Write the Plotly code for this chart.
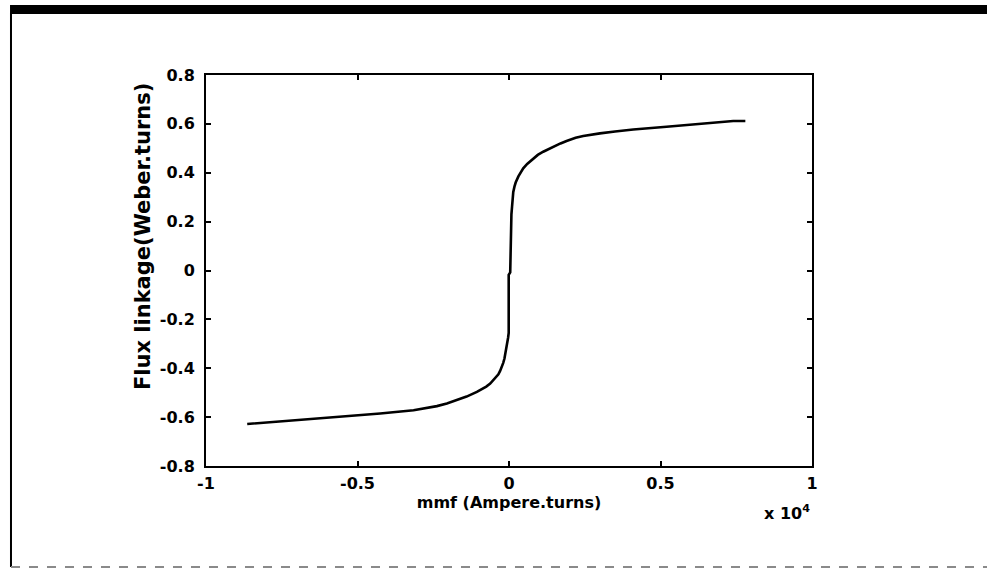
import plotly.graph_objects as go

# mmf in ampere-turns, flux linkage in weber-turns
mmf = [-8640, -7550, -6450, -5350, -4250, -3150, -2800, -2380, -2050, -1720,
       -1400, -1060, -900, -750, -620, -520, -430, -350, -290, -240, -190,
       -150, -100, -60, -30, -10, -10, 40, 50, 60, 80, 100, 120, 140, 180,
       220, 310, 380, 470, 600, 800, 950, 1130, 1300, 1500, 1700, 1900, 2200,
       2450, 2700, 3000, 3500, 4100, 5200, 6300, 7000, 7400, 7800]
flux = [-0.628, -0.618, -0.606, -0.596, -0.585, -0.572, -0.565, -0.555,
        -0.544, -0.531, -0.516, -0.497, -0.487, -0.475, -0.463, -0.449,
        -0.437, -0.425, -0.410, -0.395, -0.378, -0.360, -0.330, -0.300,
        -0.275, -0.255, -0.018, -0.008, 0.100, 0.180, 0.230, 0.260, 0.295,
        0.320, 0.343, 0.360, 0.385, 0.400, 0.418, 0.436, 0.459, 0.473,
        0.486, 0.497, 0.510, 0.520, 0.530, 0.543, 0.550, 0.556, 0.561,
        0.569, 0.577, 0.588, 0.599, 0.607, 0.612, 0.612]

x_tickvals = [-10000, -5000, 0, 5000, 10000]
x_ticktext = ["-1", "-0.5", "0", "0.5", "1"]
y_tickvals = [-0.8, -0.6, -0.4, -0.2, 0, 0.2, 0.4, 0.6, 0.8]
y_ticktext = ["-0.8", "-0.6", "-0.4", "-0.2", "0", "0.2", "0.4", "0.6", "0.8"]

FONT = dict(family="DejaVu Sans", size=16, color="black", weight="bold")
YFONT = dict(family="DejaVu Sans", size=21, color="black", weight="bold")

fig = go.Figure()
fig.add_trace(go.Scatter(x=mmf, y=flux, mode="lines",
                         line=dict(color="black", width=2.6),
                         showlegend=False, hoverinfo="skip"))

axis_common = dict(showline=True, linecolor="black", linewidth=2,
                   mirror="ticks", ticks="inside", ticklen=5, tickwidth=1.5,
                   tickcolor="black", showgrid=False, zeroline=False,
                   tickfont=FONT)

fig.update_xaxes(range=[-10000, 10000], tickvals=x_tickvals,
                 ticktext=x_ticktext, ticklabelstandoff=2,
                 title=dict(text="mmf (Ampere.turns)", font=FONT, standoff=4),
                 **axis_common)
fig.update_yaxes(range=[-0.8, 0.8], tickvals=y_tickvals,
                 ticktext=y_ticktext, ticklabelstandoff=6,
                 **axis_common)

fig.add_annotation(text="Flux linkage(Weber.turns)", xref="paper",
                   yref="paper", x=-0.104, y=0.588, textangle=-90,
                   xanchor="center", yanchor="middle", showarrow=False,
                   font=YFONT)
fig.add_annotation(text="x 10<sup>4</sup>", xref="paper", yref="paper",
                   x=1.0, y=-0.118, xanchor="right", yanchor="middle",
                   showarrow=False, font=FONT)

# page frame decorations
fig.add_shape(type="rect", xref="paper", yref="paper",
              x0=-0.3234, x1=1.30, y0=1.156, y1=1.179,
              fillcolor="black", line=dict(width=0))
fig.add_shape(type="line", xref="paper", yref="paper",
              x0=-0.3218, x1=-0.3218, y0=-0.2583, y1=1.16,
              line=dict(color="black", width=2))
fig.add_shape(type="line", xref="paper", yref="paper",
              x0=-0.3218, x1=1.30, y0=-0.2583, y1=-0.2583,
              line=dict(color="#8a8a8a", width=2, dash="dash"))

fig.update_layout(width=987, height=570,
                  margin=dict(l=206, r=175, t=75, b=104),
                  paper_bgcolor="white", plot_bgcolor="white",
                  font=FONT)

fig.write_html("out.html")
